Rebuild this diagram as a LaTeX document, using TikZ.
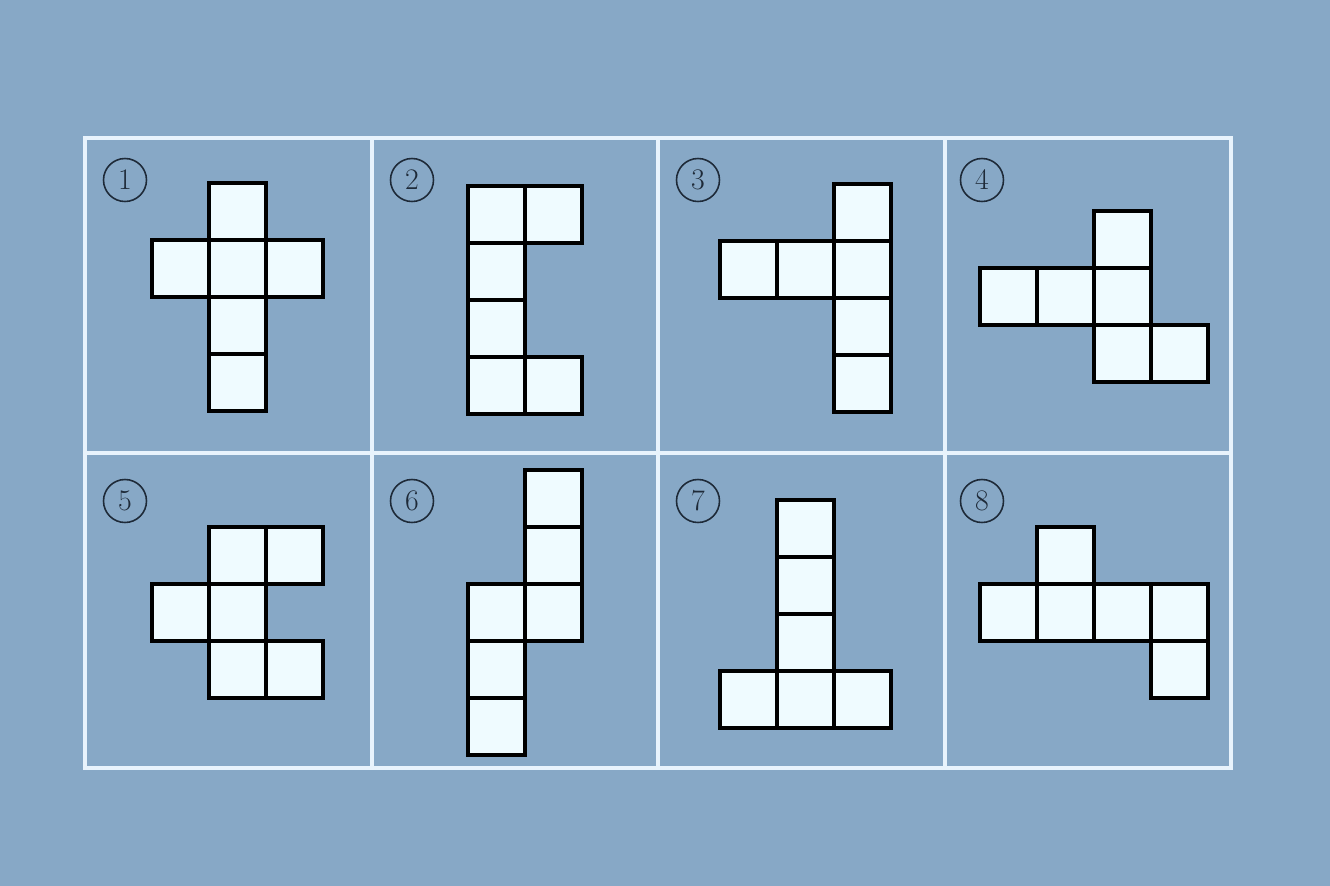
\documentclass[tikz,border=0pt]{standalone}
\usepackage{tikz}

\definecolor{bgblue}{HTML}{87A8C6}
\definecolor{sqfill}{HTML}{EFFBFF}
\definecolor{gridline}{HTML}{E8F3FC}
\definecolor{inkdark}{HTML}{1E2A38}

\tikzset{
	sq/.style={draw=black, fill=sqfill, line width=2pt},
	num/.style={circle, draw=inkdark, line width=0.9pt, minimum size=0.86cm, inner sep=0pt, text=inkdark, font=\fontsize{17}{20}\selectfont},
	gridln/.style={draw=gridline, line width=1.8pt}
}

\begin{document}
\begin{tikzpicture}[x=0.02cm, y=-0.02cm]
	\fill[bgblue] (0,0) rectangle (1330,886);
	\useasboundingbox (0,0) rectangle (1330,886);
	% table
	\draw[gridln] (85,138) rectangle (1231,768);
	\draw[gridln] (85,453) -- (1231,453);
	\draw[gridln] (372,138) -- (372,768);
	\draw[gridln] (658,138) -- (658,768);
	\draw[gridln] (945,138) -- (945,768);
	% numbers
	\draw (125,180) node[num](n1) {1};
	\draw (412,180) node[num](n2) {2};
	\draw (698,180) node[num](n3) {3};
	\draw (982,180) node[num](n4) {4};
	\draw (125,501) node[num](n5) {5};
	\draw (412,501) node[num](n6) {6};
	\draw (698,501) node[num](n7) {7};
	\draw (982,501) node[num](n8) {8};
	% net 1
	\draw[sq] (209,183) rectangle ++(57,57);
	\draw[sq] (152,240) rectangle ++(57,57);
	\draw[sq] (209,240) rectangle ++(57,57);
	\draw[sq] (266,240) rectangle ++(57,57);
	\draw[sq] (209,297) rectangle ++(57,57);
	\draw[sq] (209,354) rectangle ++(57,57);
	% net 2
	\draw[sq] (468,186) rectangle ++(57,57);
	\draw[sq] (525,186) rectangle ++(57,57);
	\draw[sq] (468,243) rectangle ++(57,57);
	\draw[sq] (468,300) rectangle ++(57,57);
	\draw[sq] (468,357) rectangle ++(57,57);
	\draw[sq] (525,357) rectangle ++(57,57);
	% net 3
	\draw[sq] (834,184) rectangle ++(57,57);
	\draw[sq] (720,241) rectangle ++(57,57);
	\draw[sq] (777,241) rectangle ++(57,57);
	\draw[sq] (834,241) rectangle ++(57,57);
	\draw[sq] (834,298) rectangle ++(57,57);
	\draw[sq] (834,355) rectangle ++(57,57);
	% net 4
	\draw[sq] (1094,211) rectangle ++(57,57);
	\draw[sq] (980,268) rectangle ++(57,57);
	\draw[sq] (1037,268) rectangle ++(57,57);
	\draw[sq] (1094,268) rectangle ++(57,57);
	\draw[sq] (1094,325) rectangle ++(57,57);
	\draw[sq] (1151,325) rectangle ++(57,57);
	% net 5
	\draw[sq] (209,527) rectangle ++(57,57);
	\draw[sq] (266,527) rectangle ++(57,57);
	\draw[sq] (152,584) rectangle ++(57,57);
	\draw[sq] (209,584) rectangle ++(57,57);
	\draw[sq] (209,641) rectangle ++(57,57);
	\draw[sq] (266,641) rectangle ++(57,57);
	% net 6
	\draw[sq] (525,470) rectangle ++(57,57);
	\draw[sq] (525,527) rectangle ++(57,57);
	\draw[sq] (525,584) rectangle ++(57,57);
	\draw[sq] (468,584) rectangle ++(57,57);
	\draw[sq] (468,641) rectangle ++(57,57);
	\draw[sq] (468,698) rectangle ++(57,57);
	% net 7
	\draw[sq] (777,500) rectangle ++(57,57);
	\draw[sq] (777,557) rectangle ++(57,57);
	\draw[sq] (777,614) rectangle ++(57,57);
	\draw[sq] (777,671) rectangle ++(57,57);
	\draw[sq] (720,671) rectangle ++(57,57);
	\draw[sq] (834,671) rectangle ++(57,57);
	% net 8
	\draw[sq] (1037,527) rectangle ++(57,57);
	\draw[sq] (980,584) rectangle ++(57,57);
	\draw[sq] (1037,584) rectangle ++(57,57);
	\draw[sq] (1094,584) rectangle ++(57,57);
	\draw[sq] (1151,584) rectangle ++(57,57);
	\draw[sq] (1151,641) rectangle ++(57,57);
\end{tikzpicture}
\end{document}
